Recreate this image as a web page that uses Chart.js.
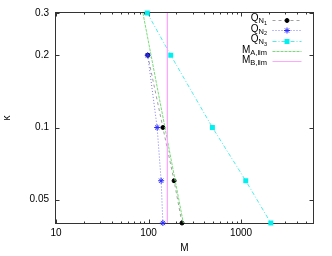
<!DOCTYPE html>
<html><head><meta charset="utf-8">
<script src="https://cdn.jsdelivr.net/npm/chart.js@4/dist/chart.umd.min.js"></script>
<style>html,body{margin:0;padding:0;background:#fff}#wrap{width:332px;height:256px}</style>
</head><body><div id="wrap"><canvas id="c" width="332" height="256"></canvas></div>
<script>
// ---- data ----
const kappaN3 = [0.3, 0.2, 0.1, 0.06, 0.04];
const kappaN12 = [0.2, 0.1, 0.06, 0.04];
const massN1 = [98, 143, 189, 230];
const massN2 = [98, 124, 137, 143];
const massN3 = [97, 174, 491, 1125, 2100];
const kappaLim = [0.3, 0.04];
const massALim = [87, 238];
const massBLim = [160, 160];
const xTickValues = [10, 100, 1000];
const yTickValues = [0.05, 0.1, 0.2, 0.3];
const xRange = [10, 6000];
const yRange = [0.04, 0.3];
const legendLabels = [
  {main: 'Q', sub: 'N', subsub: '1'},
  {main: 'Q', sub: 'N', subsub: '2'},
  {main: 'Q', sub: 'N', subsub: '3'},
  {main: 'M', sub: 'A,lim', subsub: ''},
  {main: 'M', sub: 'B,lim', subsub: ''}
];
const xTitle = 'M';
const yTitle = 'κ';

const FONT = '"Liberation Sans", Arial, sans-serif';
const pairs = (xs, ys) => xs.map((v, i) => ({x: v, y: ys[i]}));

const datasets = [
  {label: 'QN1', data: pairs(massN1, kappaN12), borderColor: '#a0a0a0', borderDash: [3, 3], borderWidth: 1,
   pointStyle: 'circle', pointRadius: 2, pointBackgroundColor: '#000', pointBorderColor: '#000', pointBorderWidth: 1, order: 5},
  {label: 'QN2', data: pairs(massN2, kappaN12), borderColor: '#7878ff', borderDash: [1, 2], borderWidth: 1,
   pointStyle: 'star', pointRadius: 3, pointBackgroundColor: '#2a2aff', pointBorderColor: '#2a2aff', pointBorderWidth: 1, order: 4},
  {label: 'QN3', data: pairs(massN3, kappaN3), borderColor: '#50ecec', borderDash: [4, 2, 1, 2], borderWidth: 1,
   pointStyle: 'rect', pointRadius: 3.5, pointBackgroundColor: '#00f0f0', pointBorderColor: '#00f0f0', pointBorderWidth: 0, order: 3},
  {label: 'MA', data: pairs(massALim, kappaLim), borderColor: '#78dc78', borderDash: [3, 1], borderWidth: 1,
   pointRadius: 0, order: 2},
  {label: 'MB', data: pairs(massBLim, kappaLim), borderColor: '#ffa8ff', borderWidth: 1,
   pointRadius: 0, order: 1}
];
datasets.forEach(d => { d.showLine = true; d.fill = false; d.clip = false; d.tension = 0; });

const frame = {
  id: 'frame',
  beforeDatasetsDraw(chart) {
    const {ctx, chartArea: a, scales: {x, y}} = chart;
    ctx.save();
    ctx.strokeStyle = '#333';
    ctx.lineWidth = 1;
    const L = a.left - 0.5, R = a.right + 0.5, T = a.top - 0.5, B = a.bottom + 0.5;
    ctx.strokeRect(L, T, R - L, B - T);
    ctx.beginPath();
    const xt = (v, len) => {
      const p = Math.round(x.getPixelForValue(v)) + 0.5;
      ctx.moveTo(p, B); ctx.lineTo(p, B - len);
      ctx.moveTo(p, T); ctx.lineTo(p, T + len);
    };
    for (let dec = xRange[0]; dec < xRange[1]; dec *= 10) {
      xt(dec, 4);
      for (let m = 2; m <= 9; m++) { if (dec * m <= xRange[1]) xt(dec * m, 2); }
    }
    yTickValues.forEach(v => {
      const p = Math.round(y.getPixelForValue(v)) + 0.5;
      ctx.moveTo(L, p); ctx.lineTo(L + 4, p);
      ctx.moveTo(R, p); ctx.lineTo(R - 4, p);
    });
    ctx.stroke();
    ctx.restore();
  }
};

const keyPlugin = {
  id: 'key',
  afterDatasetsDraw(chart) {
    const {ctx} = chart;
    const rows = [19.5, 30, 40.5, 51, 61];
    const textRight = 267, x0 = 272.5, x1 = 301.5, xm = 287;
    ctx.save();
    legendLabels.forEach((lab, i) => {
      const ds = chart.data.datasets[i];
      const yl = rows[i];
      ctx.font = '10px ' + FONT; const w1 = ctx.measureText(lab.main).width;
      ctx.font = '7.5px ' + FONT; const w2 = ctx.measureText(lab.sub).width;
      ctx.font = '5.5px ' + FONT; const w3 = lab.subsub ? ctx.measureText(lab.subsub).width : 0;
      const tx = textRight - (w1 + w2 + w3);
      ctx.fillStyle = '#000';
      ctx.textBaseline = 'alphabetic';
      ctx.textAlign = 'left';
      ctx.font = '10px ' + FONT; ctx.fillText(lab.main, tx, yl + 1.5);
      ctx.font = '7.5px ' + FONT; ctx.fillText(lab.sub, tx + w1, yl + 3.5);
      if (lab.subsub) { ctx.font = '5.5px ' + FONT; ctx.fillText(lab.subsub, tx + w1 + w2, yl + 5); }
      ctx.strokeStyle = ds.borderColor;
      ctx.lineWidth = 1;
      ctx.setLineDash(ds.borderDash || []);
      ctx.beginPath(); ctx.moveTo(x0, Math.round(yl) + 0.5); ctx.lineTo(x1, Math.round(yl) + 0.5); ctx.stroke();
      ctx.setLineDash([]);
      if (ds.pointRadius > 0) {
        ctx.fillStyle = ds.pointBackgroundColor;
        ctx.strokeStyle = ds.pointBorderColor;
        ctx.lineWidth = ds.pointBorderWidth;
        Chart.helpers.drawPoint(ctx, {pointStyle: ds.pointStyle, radius: ds.pointRadius, rotation: 0, borderWidth: ds.pointBorderWidth}, xm, Math.round(yl) + 0.5);
      }
    });
    ctx.restore();
  }
};

Chart.defaults.font.family = FONT;
Chart.defaults.font.size = 10;
Chart.defaults.color = '#000';

new Chart(document.getElementById('c'), {
  type: 'scatter',
  data: {datasets},
  options: {
    responsive: false, devicePixelRatio: 1, animation: false,
    layout: {padding: {top: 12, right: 19, left: 0, bottom: 0}},
    plugins: {legend: {display: false}, tooltip: {enabled: false}},
    scales: {
      x: {
        type: 'logarithmic', position: 'bottom', min: xRange[0], max: xRange[1],
        grid: {display: false, drawTicks: false}, border: {display: false},
        afterBuildTicks: s => { s.ticks = xTickValues.map(v => ({value: v, major: true})); },
        afterFit: s => { s.height = 33; },
        ticks: {padding: 4, autoSkip: false, maxRotation: 0, callback: v => String(v)},
        title: {display: true, text: xTitle, padding: {top: 0, bottom: 2}, font: {size: 10}}
      },
      y: {
        type: 'logarithmic', position: 'left', min: yRange[0], max: yRange[1],
        grid: {display: false, drawTicks: false}, border: {display: false},
        afterBuildTicks: s => { s.ticks = yTickValues.map(v => ({value: v, major: true})); },
        afterFit: s => { s.width = 56; },
        ticks: {padding: 7, autoSkip: false, callback: v => String(v)},
        title: {display: true, text: yTitle, padding: {top: 1, bottom: 0}, font: {size: 10}}
      }
    }
  },
  plugins: [frame, keyPlugin]
});
</script>
</body></html>
